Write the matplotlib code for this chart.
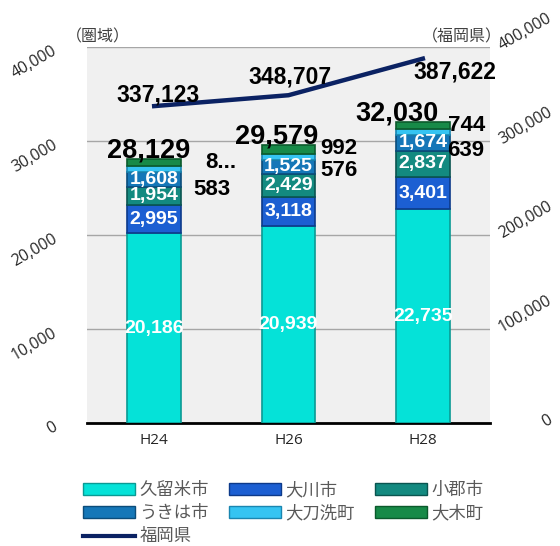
import numpy as np
import matplotlib.pyplot as plt
from matplotlib.patches import Patch
from matplotlib.lines import Line2D

plt.rcParams['font.family'] = ['Noto Sans CJK JP', 'DejaVu Sans']

# Data
years = ['H24', 'H26', 'H28']
kurume = [20186, 20939, 22735]
okawa = [2995, 3118, 3401]
ogori = [1954, 2429, 2837]
ukiha = [1608, 1525, 1674]
tachiarai = [583, 576, 639]
oki = [803, 992, 744]
fukuoka = [337123, 348707, 387622]
left_ticks = [0, 10000, 20000, 30000, 40000]
right_ticks = [0, 100000, 200000, 300000, 400000]

series = [
    ('久留米市', kurume, '#05e2d8', '#0a9a94'),
    ('大川市', okawa, '#1c5fd2', '#0d3a8a'),
    ('小郡市', ogori, '#138a80', '#0a5550'),
    ('うきは市', ukiha, '#1577b8', '#0b4c7a'),
    ('大刀洗町', tachiarai, '#35c4f2', '#1a86b0'),
    ('大木町', oki, '#178a48', '#0b5a2c'),
]
line_color = '#0b2263'
tick_color = '#262626'

num_font = dict(family='Liberation Sans', weight='bold')

fig = plt.figure(figsize=(5.6, 5.46), dpi=100)
ax = fig.add_axes([0.1554, 0.2253, 0.7196, 0.6886])
ax.set_facecolor('#f0f0f0')

x = np.arange(len(years))
width = 0.4
bottom = np.zeros(len(years))
for name, vals, color, edge in series:
    ax.bar(x, vals, width, bottom=bottom, color=color, edgecolor=edge,
           linewidth=1.2, zorder=3)
    bottom += np.array(vals)
totals = bottom

# white labels inside the four lower segments
cum = np.zeros(len(years))
for i, (name, vals, color, edge) in enumerate(series):
    if i < 4:
        for j, v in enumerate(vals):
            ax.text(x[j], cum[j] + v / 2, f'{v:,}', ha='center', va='center',
                    color='white', fontsize=14, zorder=5, **num_font)
    cum += np.array(vals)

# black labels beside the bar for 大木町 (upper) and 大刀洗町 (lower)
upper_pos = [(0.38, 27660), (0.235, 29255), (0.186, 31700)]
lower_pos = [(0.29, 24790), (0.235, 26915), (0.18, 29040)]
for j in range(len(years)):
    lab = '8...' if j == 0 else f'{oki[j]:,}'
    ax.text(x[j] + upper_pos[j][0], upper_pos[j][1], lab, ha='left', va='center',
            color='black', fontsize=16, zorder=5, **num_font)
    ax.text(x[j] + lower_pos[j][0], lower_pos[j][1], f'{tachiarai[j]:,}',
            ha='left', va='center', color='black', fontsize=16, zorder=5, **num_font)

# totals above bars
total_dx = [-0.04, -0.09, -0.19]
for j, t in enumerate(totals):
    ax.text(x[j] + total_dx[j], t + 150, f'{int(t):,}', ha='center', va='baseline',
            color='black', fontsize=19.5, zorder=5, **num_font)

ax.set_xlim(-0.5, 2.5)
ax.set_ylim(0, 40000)
ax.set_yticks(left_ticks)
ax.set_yticklabels([])
ax.set_xticks(x)
ax.set_xticklabels(years, fontsize=11, color=tick_color, family='Open Sans')
ax.grid(axis='y', color='#a6a6a6', linewidth=1, zorder=1)
ax.tick_params(length=0, pad=7)
for s in ['top', 'right', 'left']:
    ax.spines[s].set_visible(False)
ax.spines['bottom'].set_color('black')
ax.spines['bottom'].set_linewidth(2)

for v in left_ticks:
    ax.annotate(f'{v:,}', xy=(0, v), xycoords=('axes fraction', 'data'),
                xytext=(-27, 4), textcoords='offset pixels', ha='right', va='top',
                rotation=30, fontsize=11.5, color=tick_color, family='Open Sans')

ax2 = ax.twinx()
ax2.plot(x, fukuoka, color=line_color, linewidth=3.2, zorder=6)
ax2.set_ylim(0, 400000)
ax2.set_yticks([])
for s in ['top', 'right', 'left', 'bottom']:
    ax2.spines[s].set_visible(False)
for v in right_ticks:
    ax2.annotate(f'{v:,}', xy=(1, v), xycoords=('axes fraction', 'data'),
                 xytext=(65, -7), textcoords='offset pixels', ha='right', va='bottom',
                 rotation=30, fontsize=11.5, color=tick_color, family='Open Sans')

line_off = [(0.03, 11700), (0.01, 19100), (0.24, -13800)]
for j, v in enumerate(fukuoka):
    ax2.text(x[j] + line_off[j][0], v + line_off[j][1], f'{v:,}', ha='center',
             va='center', color='black', fontsize=16.5, zorder=7, **num_font)

fig.text(66 / 560, 1 - 37 / 546, '（圏域）', ha='left', va='center',
         fontsize=11.5, color='#404040')
fig.text(502 / 560, 1 - 37 / 546, '（福岡県）', ha='right', va='center',
         fontsize=11.5, color='#404040')

handles = [
    Patch(facecolor=series[0][2], edgecolor=series[0][3]),
    Patch(facecolor=series[3][2], edgecolor=series[3][3]),
    Line2D([0], [0], color=line_color, linewidth=3),
    Patch(facecolor=series[1][2], edgecolor=series[1][3]),
    Patch(facecolor=series[4][2], edgecolor=series[4][3]),
    Patch(facecolor=series[2][2], edgecolor=series[2][3]),
    Patch(facecolor=series[5][2], edgecolor=series[5][3]),
]
labels = ['久留米市', 'うきは市', '福岡県', '大川市', '大刀洗町', '小郡市', '大木町']
fig.legend(handles, labels, loc='upper left', bbox_to_anchor=(83 / 560, 1 - 481 / 546),
           ncol=3, frameon=False, fontsize=12.5, handlelength=3.0, handleheight=0.63,
           columnspacing=1.15, labelspacing=0.3, handletextpad=0.25,
           borderpad=0, borderaxespad=0, labelcolor='#595959')

fig.savefig('out.png', dpi=100)
